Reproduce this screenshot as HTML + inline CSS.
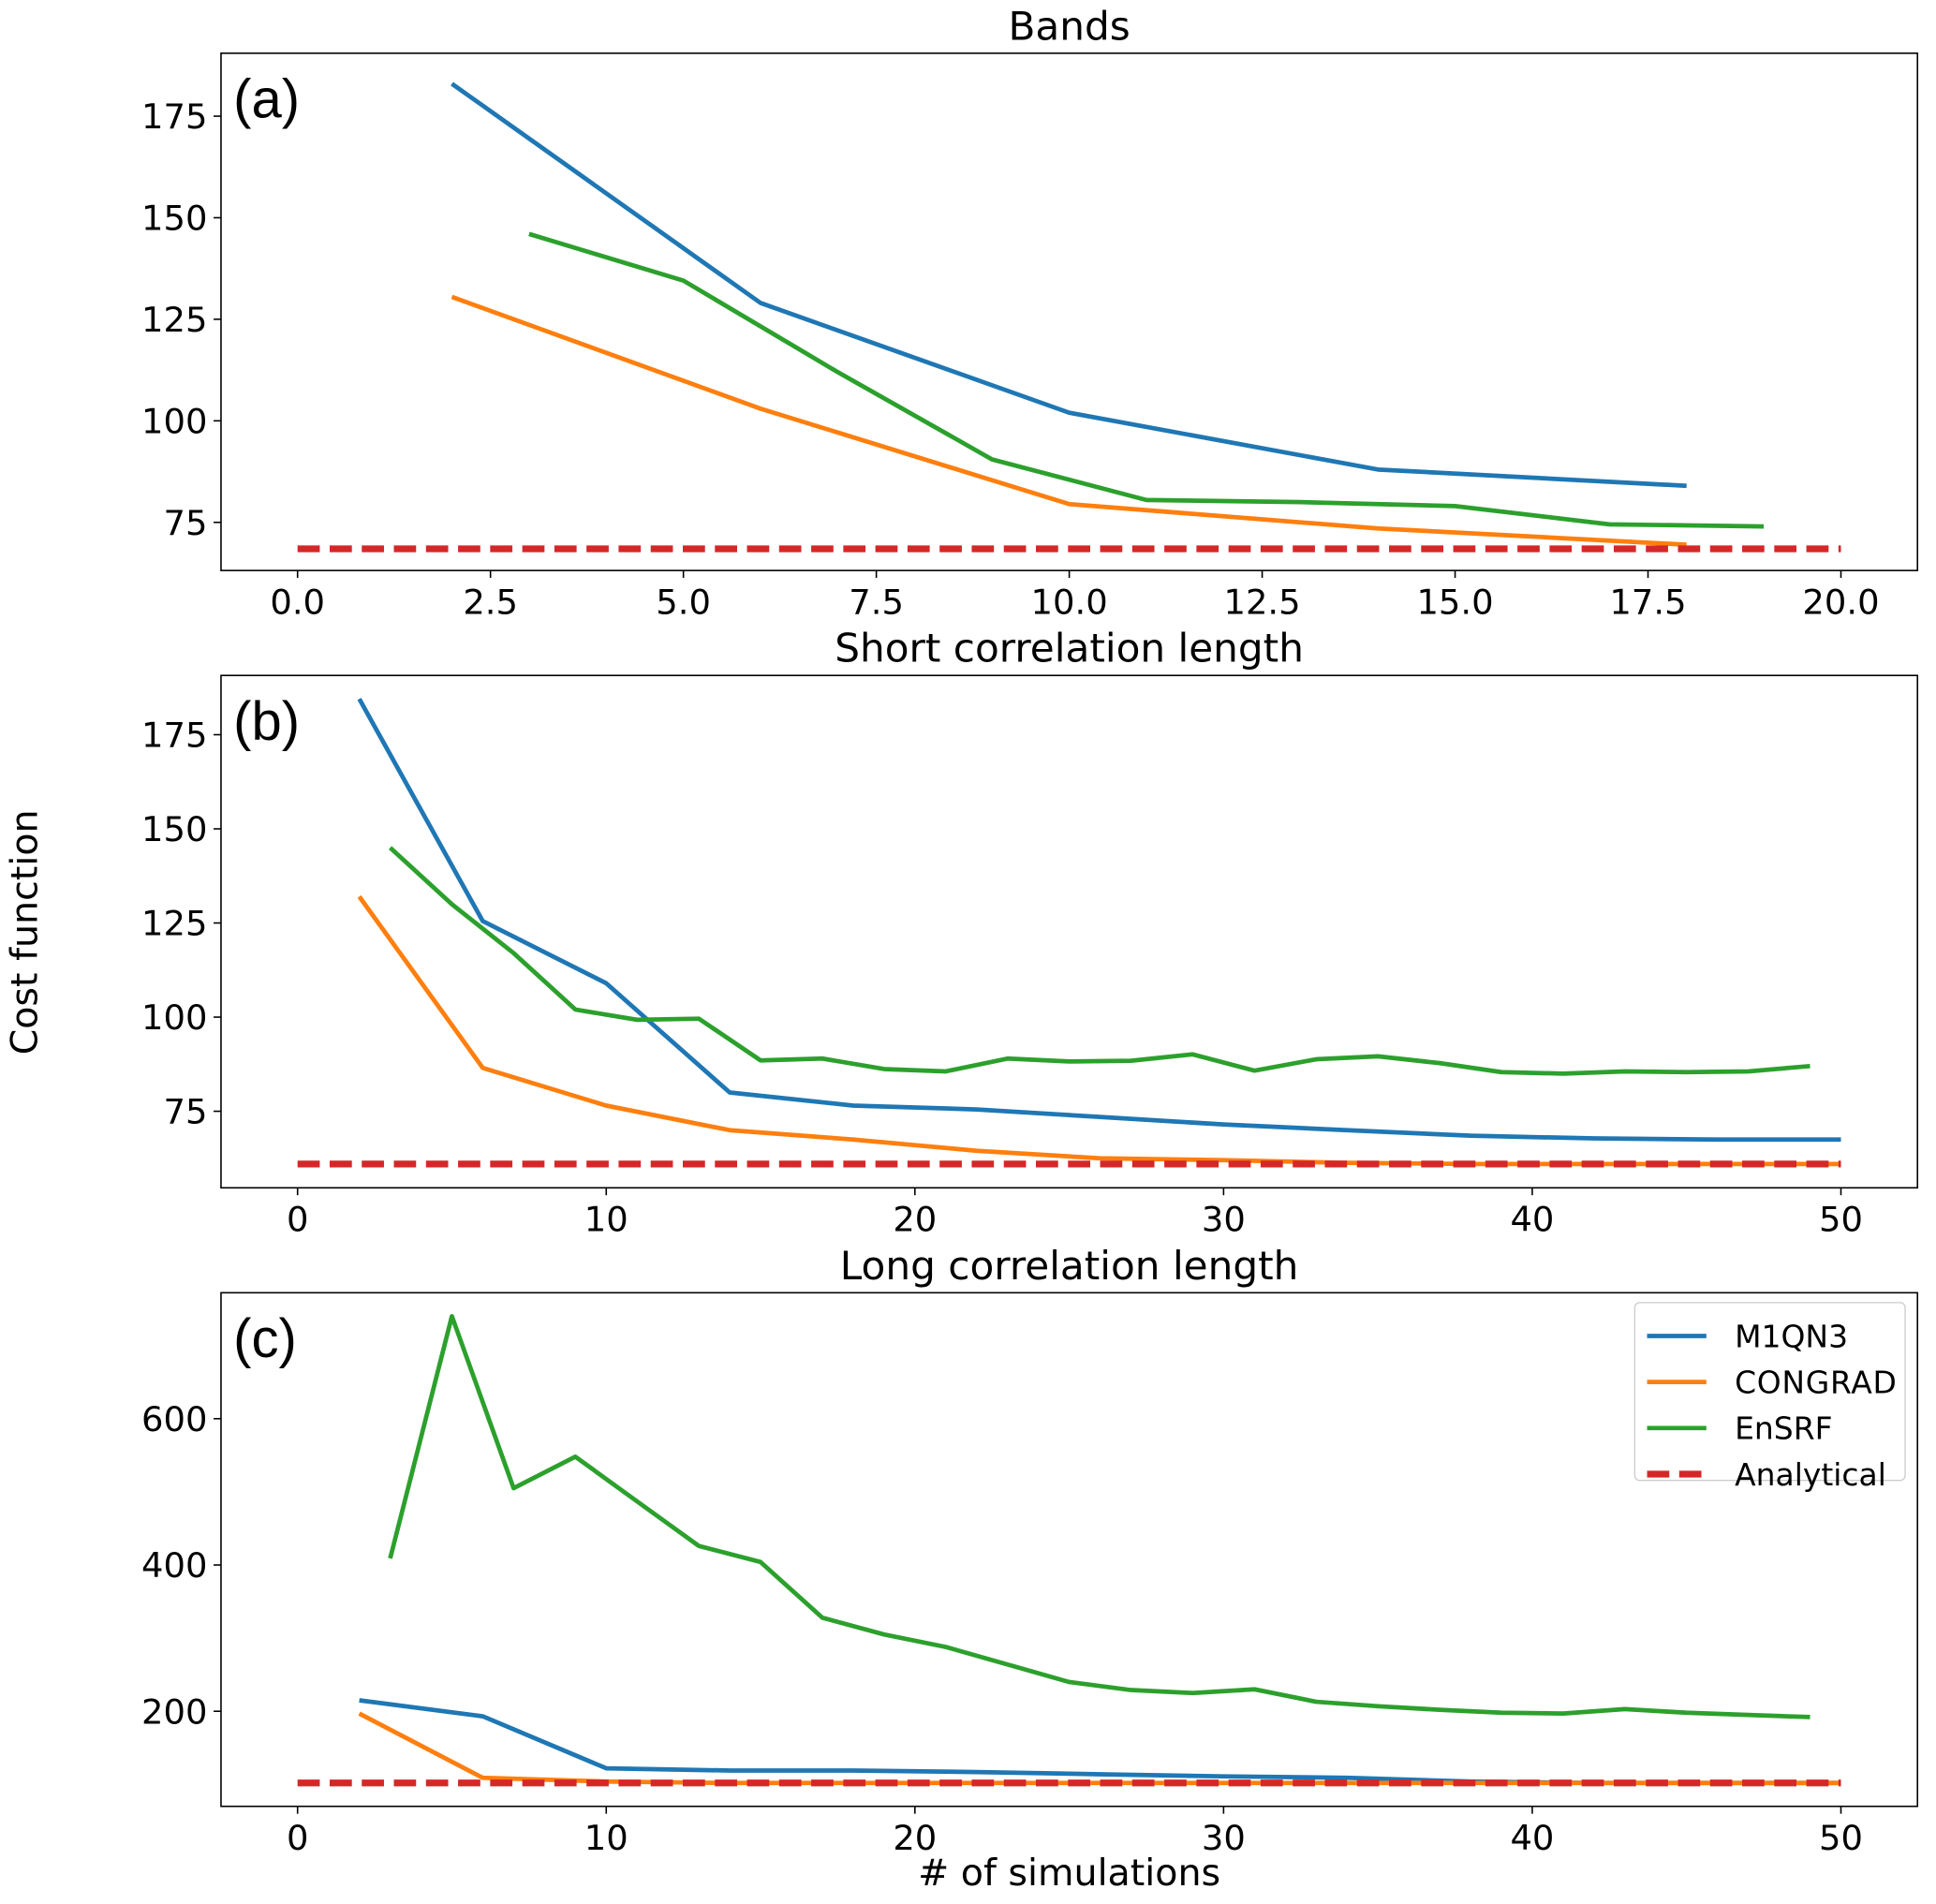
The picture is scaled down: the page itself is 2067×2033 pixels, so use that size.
<!DOCTYPE html>
<html><head><meta charset="utf-8"><style>
html,body{margin:0;padding:0;background:#fff;}
svg{display:block;font-family:"Liberation Sans","DejaVu Sans",sans-serif;}
</style></head><body>
<svg id="chart" width="2067" height="2033" viewBox="0 0 1568 1542" xmlns="http://www.w3.org/2000/svg">
<text x="30" y="755" font-size="30" text-anchor="middle" transform="rotate(-90 30 755)" font-family="DejaVu Sans, sans-serif">Cost function</text>
<text x="866" y="1527" font-size="30" text-anchor="middle" font-family="DejaVu Sans, sans-serif"># of simulations</text>
</svg>
<script>
// Panel (a) Bands
const aM1x=[2,6,10,14,18];
const aM1y=[183,129,102,88,84];
const aCGx=[2,6,10,14,18];
const aCGy=[130.5,103,79.5,73.5,69.5];
const aENx=[3,5,7,9,11,13,15,17,19];
const aENy=[146,134.5,112,90.5,80.5,80,79,74.5,74];
const aAnx=[0,20];
const aAny=[68.5,68.5];
const aXt=[0,2.5,5,7.5,10,12.5,15,17.5,20];
const aXtl=["0.0","2.5","5.0","7.5","10.0","12.5","15.0","17.5","20.0"];
const aYt=[75,100,125,150,175];
// Panel (b) Short
const bM1x=[2,6,10,14,18,22,26,30,34,38,42,46,50];
const bM1y=[184.5,125.5,109,80,76.5,75.5,73.5,71.5,70,68.5,67.8,67.5,67.5];
const bCGx=[2,6,10,14,18,22,26,30,34,38,42,46,50];
const bCGy=[132,86.5,76.5,70,67.5,64.5,62.5,62,61.3,61,61,61,61];
const bENx=[3,5,7,9,11,13,15,17,19,21,23,25,27,29,31,33,35,37,39,41,43,45,47,49];
const bENy=[145,130,117,102,99.3,99.6,88.5,89,86.2,85.6,89,88.2,88.4,90.1,85.8,88.8,89.6,87.8,85.4,85,85.6,85.4,85.6,87];
const bAnx=[0,50];
const bAny=[61,61];
const bXt=[0,10,20,30,40,50];
const bXtl=["0","10","20","30","40","50"];
const bYt=[75,100,125,150,175];
// Panel (c) Long
const cM1x=[2,6,10,14,18,22,26,30,34,38,42,46,50];
const cM1y=[215,193,122,119,119,117,114,111,109,104,102,102,102];
const cCGx=[2,6,10,14,18,22,26,30,34,38,42,46,50];
const cCGy=[197,109,104,102,102,102,102,102,102,102,102,102,102];
const cENx=[3,5,7,9,11,13,15,17,19,21,23,25,27,29,31,33,35,37,39,41,43,45,47,49];
const cENy=[409,740,505,548,487,426,404,328,305,288,264,240,229,225,230,213,207,202,198,197,203,198,195,192];
const cAnx=[0,50];
const cAny=[102,102];
const cXt=[0,10,20,30,40,50];
const cXtl=["0","10","20","30","40","50"];
const cYt=[200,400,600];

const NS="http://www.w3.org/2000/svg";
const svg=document.getElementById('chart');
const C={m1:"#1f77b4",cg:"#ff7f0e",en:"#2ca02c",an:"#d62728"};
function mk(t,a,p){const e=document.createElementNS(NS,t);for(const k in a)e.setAttribute(k,a[k]);(p||svg).appendChild(e);return e;}

function panel(cfg){
  const g=mk('g',{});
  
  
  const sx=v=>cfg.px0+(v-cfg.x0)*(cfg.px1-cfg.px0)/(cfg.x1-cfg.x0);
  const sy=v=>cfg.py0+(v-cfg.y0)*(cfg.py1-cfg.py0)/(cfg.y1-cfg.y0);
  const t=mk('text',{x:866,y:cfg.top-11,'font-size':32,'text-anchor':'middle','font-family':'DejaVu Sans, sans-serif'},g);
  t.textContent=cfg.title;
  
  
  cfg.xt.forEach((v,i)=>{
    const x=sx(v);
    mk('line',{x1:x,x2:x,y1:cfg.bot,y2:cfg.bot+6,stroke:'#000','stroke-width':1.2},g);
    const tx=mk('text',{x:x,y:cfg.bot+35,'font-size':28,'text-anchor':'middle','font-family':'DejaVu Sans, sans-serif'},g);
    tx.textContent=cfg.xtl[i];
    
    
  });
  cfg.yt.forEach(v=>{
    const y=sy(v);
    mk('line',{x1:173,x2:179,y1:y,y2:y,stroke:'#000','stroke-width':1.2},g);
    const ty=mk('text',{x:168,y:y+10,'font-size':28,'text-anchor':'end','font-family':'DejaVu Sans, sans-serif'},g);
    ty.textContent=String(v);
    
    
  });
  const clip='clip'+cfg.lab;
  const cp=mk('clipPath',{id:clip},g);
  mk('rect',{x:179,y:cfg.top,width:1374,height:cfg.bot-cfg.top},cp);
  const series=[
    [cfg.m1x,cfg.m1y,C.m1,'m1qn3-line',null],
    [cfg.cgx,cfg.cgy,C.cg,'congrad-line',null],
    [cfg.enx,cfg.eny,C.en,'ensrf-line',null],
    [cfg.anx,cfg.any,C.an,'analytical-line','18 8']];
  series.forEach(s=>{
    const pts=s[0].map((x,i)=>sx(x).toFixed(1)+','+sy(s[1][i]).toFixed(1)).join(' ');
    const a={points:pts,fill:'none',stroke:s[2],'stroke-width':s[4]?5.5:3.6,'stroke-linejoin':'round','clip-path':'url(#'+clip+')'};
    if(s[4])a['stroke-dasharray']=s[4];
    const pl=mk('polyline',a,g);
    
    
  });
  const fr=mk('rect',{x:179,y:cfg.top,width:1374,height:cfg.bot-cfg.top,fill:'none',stroke:'#000','stroke-width':1.2},g);
  
  
  const lb=mk('text',{x:189,y:cfg.top+52,'font-size':44,'font-family':'Liberation Sans, sans-serif'},g);
  lb.textContent='('+cfg.lab+')';
  
  
}
panel({name:'panel-a-bands',lab:'a',title:'Bands',top:43,bot:462,x0:0,x1:20,px0:241,px1:1491,y0:75,y1:175,py0:423,py1:94,xt:aXt,xtl:aXtl,yt:aYt,
  m1x:aM1x,m1y:aM1y,cgx:aCGx,cgy:aCGy,enx:aENx,eny:aENy,anx:aAnx,any:aAny});
panel({name:'panel-b-short',lab:'b',title:'Short correlation length',top:547,bot:962,x0:0,x1:50,px0:241,px1:1491,y0:75,y1:175,py0:900,py1:595,xt:bXt,xtl:bXtl,yt:bYt,
  m1x:bM1x,m1y:bM1y,cgx:bCGx,cgy:bCGy,enx:bENx,eny:bENy,anx:bAnx,any:bAny});
panel({name:'panel-c-long',lab:'c',title:'Long correlation length',top:1047,bot:1463,x0:0,x1:50,px0:241,px1:1491,y0:200,y1:600,py0:1386,py1:1149,xt:cXt,xtl:cXtl,yt:cYt,
  m1x:cM1x,m1y:cM1y,cgx:cCGx,cgy:cCGy,enx:cENx,eny:cENy,anx:cAnx,any:cAny});

// legend
const lg=mk('g',{});


mk('rect',{x:1324,y:1055,width:219,height:144,rx:4,fill:'#fff',stroke:'#ccc','stroke-width':1},lg);
const names=["M1QN3","CONGRAD","EnSRF","Analytical"];
const cols=[C.m1,C.cg,C.en,C.an];
names.forEach((n,i)=>{
  const y=1082+i*37.3;
  const a={x1:1334,x2:1382,y1:y,y2:y,stroke:cols[i],'stroke-width':i==3?5.5:3.6};
  if(i==3)a['stroke-dasharray']='18 8';
  const ln=mk('line',a,lg);
  
  
  const tx=mk('text',{x:1405,y:y+9,'font-size':25,'textLength':i==1?131:null,'font-family':'DejaVu Sans, sans-serif'},lg);
  if(i!=1)tx.removeAttribute('textLength');
  tx.textContent=n;
  
  
});
</script>
</body></html>
